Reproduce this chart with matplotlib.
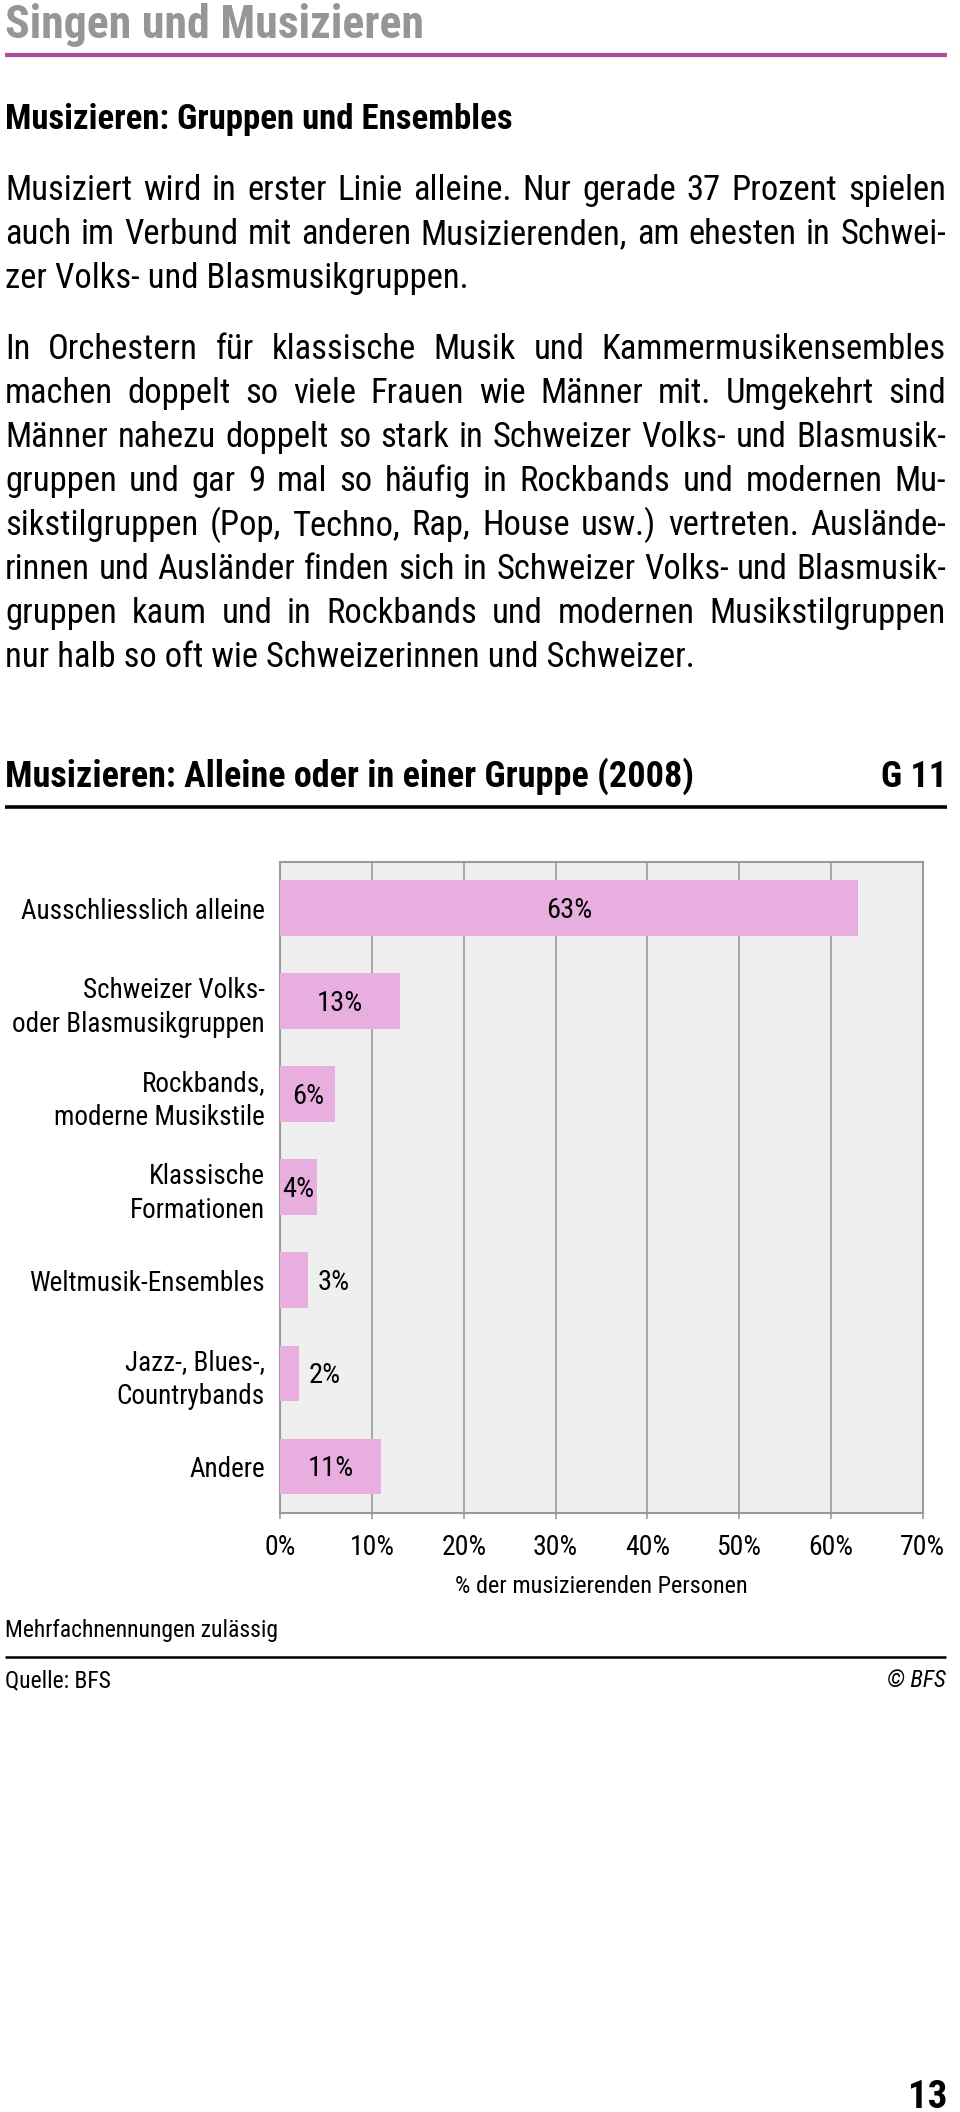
import matplotlib
matplotlib.use("Agg")
import matplotlib.pyplot as plt
from matplotlib.lines import Line2D

W, H, DPI = 960, 2112, 100
plt.rcParams["font.family"] = ["Roboto Condensed", "DejaVu Sans"]

PINK = "#E8AEDF"
PANEL = "#EFEFEF"
GRID = "#9A9A9A"
MAGENTA = "#B04A9C"
TITLE_GRAY = "#969696"

# data
categories = [
    "Ausschliesslich alleine",
    "Schweizer Volks-\noder Blasmusikgruppen",
    "Rockbands,\nmoderne Musikstile",
    "Klassische\nFormationen",
    "Weltmusik-Ensembles",
    "Jazz-, Blues-,\nCountrybands",
    "Andere",
]
values = [63, 13, 6, 4, 3, 2, 11]
xticks = [0, 10, 20, 30, 40, 50, 60, 70]
xtick_labels = [f"{t}%" for t in xticks]

para1 = [
    "Musiziert wird in erster Linie alleine. Nur gerade 37 Prozent spielen",
    "auch im Verbund mit anderen Musizierenden, am ehesten in Schwei-",
    "zer Volks- und Blasmusikgruppen.",
]
para2 = [
    "In Orchestern für klassische Musik und Kammermusikensembles",
    "machen doppelt so viele Frauen wie Männer mit. Umgekehrt sind",
    "Männer nahezu doppelt so stark in Schweizer Volks- und Blasmusik-",
    "gruppen und gar 9 mal so häufig in Rockbands und modernen Mu-",
    "sikstilgruppen (Pop, Techno, Rap, House usw.) vertreten. Auslände-",
    "rinnen und Ausländer finden sich in Schweizer Volks- und Blasmusik-",
    "gruppen kaum und in Rockbands und modernen Musikstilgruppen",
    "nur halb so oft wie Schweizerinnen und Schweizer.",
]

fig = plt.figure(figsize=(W / DPI, H / DPI), dpi=DPI)
fig.patch.set_facecolor("white")
renderer = fig.canvas.get_renderer()


def fx(x):
    return x / W


def fy(y):
    return 1 - y / H


def put(x, y, s, **kw):
    kw.setdefault("va", "baseline")
    return fig.text(fx(x), fy(y), s, **kw)


def text_width(s, **kw):
    t = put(0, 0, s, **kw)
    w = t.get_window_extent(renderer).width
    t.remove()
    return w


def hline(y, x0, x1, color, lw):
    fig.add_artist(Line2D([fx(x0), fx(x1)], [fy(y), fy(y)], color=color, lw=lw,
                          transform=fig.transFigure, solid_capstyle="butt"))


def justified(line, x0, x1, y, **kw):
    words = line.split(" ")
    texts = [put(0, y, w, **kw) for w in words]
    widths = [t.get_window_extent(renderer).width for t in texts]
    gap = (x1 - x0 - sum(widths)) / max(len(words) - 1, 1)
    x = x0
    for t, w in zip(texts, widths):
        t.set_x(fx(x))
        x += w + gap


def paragraph(lines, y0, step, **kw):
    for i, line in enumerate(lines):
        y = y0 + i * step
        if i < len(lines) - 1:
            justified(line, 5, 946, y, **kw)
        else:
            put(5, y, line, **kw)


# header
put(5, 38, "Singen und Musizieren", fontsize=33, fontweight="bold", color=TITLE_GRAY)
hline(55, 5, 947, MAGENTA, 3)
put(5, 129, "Musizieren: Gruppen und Ensembles", fontsize=25, fontweight="bold")

# body text, shrunk just enough that the widest line fits the column
body_size = 25.5
widest = max(text_width(l, fontsize=body_size) for l in para1[:-1] + para2[:-1])
body_size = body_size * min(1.0, 938 / widest)
paragraph(para1, 200, 44, fontsize=body_size)
paragraph(para2, 359, 44, fontsize=body_size)

put(5, 787, "Musizieren: Alleine oder in einer Gruppe (2008)", fontsize=26, fontweight="bold")
put(947, 787, "G 11", fontsize=26, fontweight="bold", ha="right")
hline(807, 5, 947, "black", 2.6)

# chart
left, right, top, bottom = 280.4, 922.5, 861.7, 1513
ax = fig.add_axes([fx(left), fy(bottom), (right - left) / W, (bottom - top) / H])
ypos = list(range(len(categories)))
ax.barh(ypos, values, height=0.6, color=PINK, zorder=3)
ax.set_xlim(0, 70)
ax.set_ylim(len(categories) - 0.5, -0.5)
ax.set_facecolor(PANEL)
ax.set_axisbelow(True)
ax.grid(axis="x", color=GRID, lw=1.2)
for sp in ax.spines.values():
    sp.set_color(GRID)
    sp.set_linewidth(1.5)

ax.set_xticks(xticks)
ax.set_xticklabels(xtick_labels)
ax.tick_params(axis="x", length=4, width=1.2, color=GRID, labelsize=20, pad=11)
ax.set_yticks(ypos)
ax.set_yticklabels(categories)
ax.tick_params(axis="y", length=0, pad=11, labelsize=19.5)
for lbl in ax.get_yticklabels():
    lbl.set_linespacing(1.33)

for i, v in enumerate(values):
    if v >= 4:
        ax.annotate(f"{v}%", (v / 2, i), xytext=(0, -1.5), textcoords="offset points",
                    ha="center", va="center", fontsize=20.5, zorder=4)
    else:
        ax.annotate(f"{v}%", (v, i), xytext=(7, -1.5), textcoords="offset points",
                    ha="left", va="center", fontsize=20.5, zorder=4)

put((left + right) / 2, 1593, "% der musizierenden Personen", fontsize=17.5, ha="center")

# footer
put(5, 1637, "Mehrfachnennungen zulässig", fontsize=17)
hline(1657, 5, 946, "black", 1.8)
put(5, 1687, "Quelle: BFS", fontsize=17)
put(946, 1687, "© BFS", fontsize=17, ha="right", style="italic")
put(947, 2108, "13", fontsize=28, fontweight="bold", ha="right")

fig.savefig("out.png", dpi=DPI)
